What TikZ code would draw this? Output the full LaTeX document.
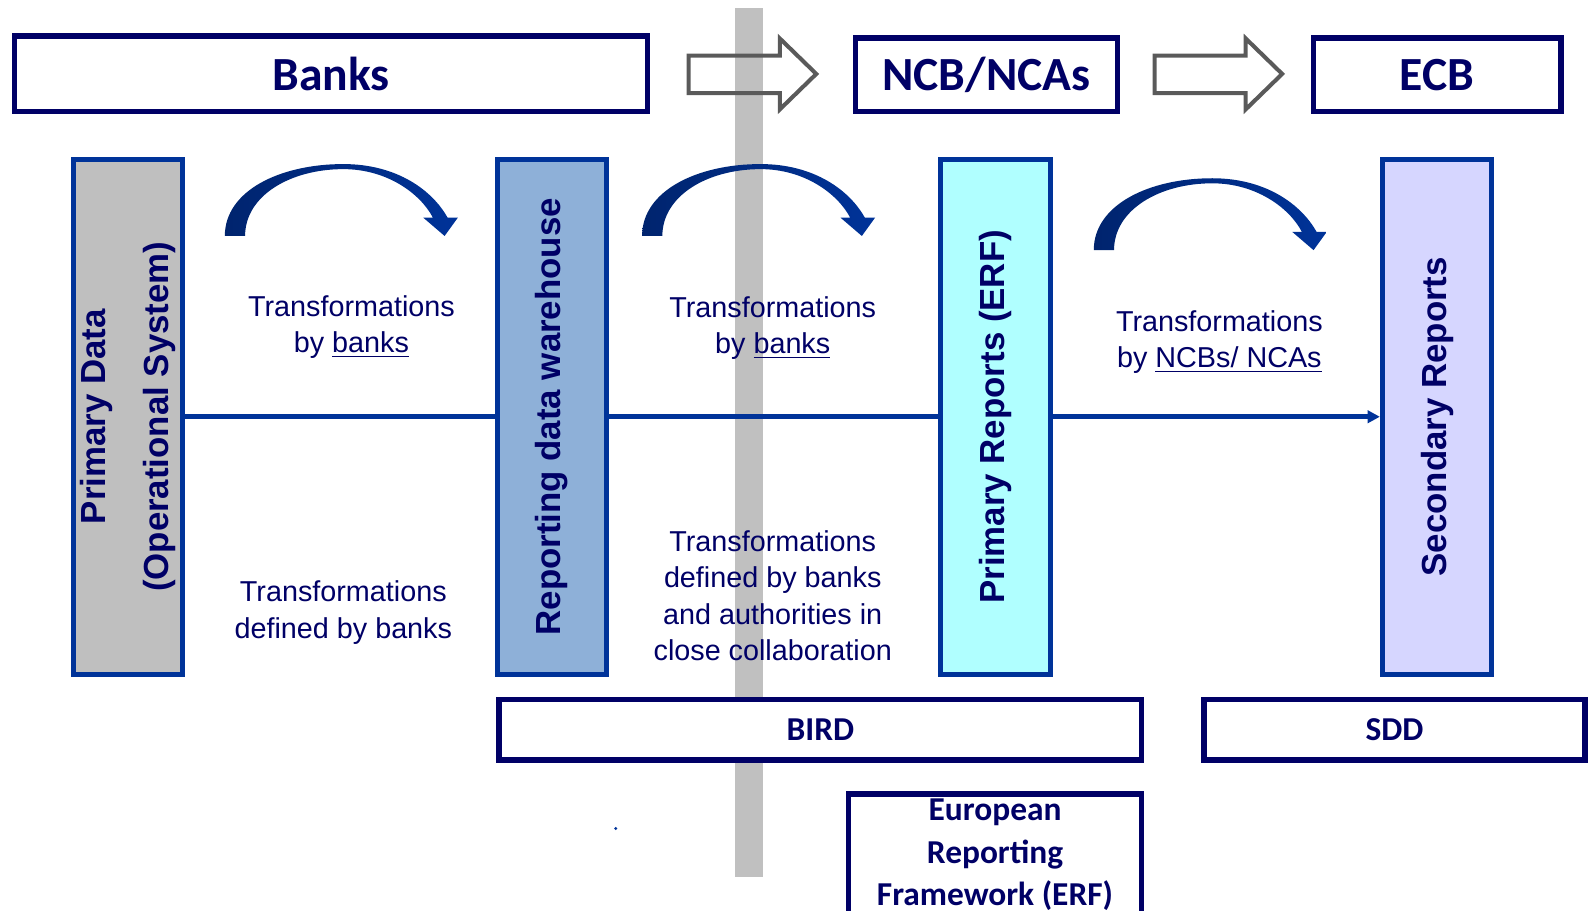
\documentclass[tikz,border=0pt]{standalone}
\usepackage{fontspec}
\setmainfont{Liberation Sans}
\newfontfamily\calibfont{Carlito}
\usetikzlibrary{arrows.meta}

\definecolor{navy}{HTML}{000066}
\definecolor{boxblue}{HTML}{003399}
\definecolor{arcdark}{HTML}{00246E}
\definecolor{arrowgray}{HTML}{5A5A5A}
\definecolor{bargray}{HTML}{C0C0C0}
\definecolor{opgray}{HTML}{BFBFBF}
\definecolor{dwblue}{HTML}{8EB0D8}
\definecolor{ercyan}{HTML}{B0FFFF}
\definecolor{seclilac}{HTML}{D6D6FF}

\tikzset{
  topbox/.style={draw=navy, line width=2.6pt, fill=white, inner sep=0pt, text=navy,
    font=\calibfont\bfseries\fontsize{23.5}{28}\selectfont},
  botbox/.style={draw=navy, line width=2.8pt, fill=white, inner sep=0pt, text=navy, align=center,
    font=\calibfont\bfseries\fontsize{16.5}{21}\selectfont},
  vbox/.style={draw=boxblue, line width=2.4pt, inner sep=0pt,
    minimum width=54.1pt, minimum height=254.1pt},
  vtext/.style={rotate=90, align=center, text=navy, inner sep=0pt,
    font=\bfseries\fontsize{17.2}{31}\selectfont},
  ttext/.style={align=center, text=navy, inner sep=0pt,
    font=\fontsize{14.2}{18}\selectfont},
  hline/.style={draw=boxblue, line width=2.5pt},
  hollow/.style={draw=arrowgray, line width=2pt, line join=miter},
}

\begin{document}
\begin{tikzpicture}[x=0.5pt, y=-0.5pt]
  \useasboundingbox (0,0) rectangle (1568,899);
  \def\bentarrow{(0,0) .. controls (0,-45) and (55,-71) .. (117,-71)
    .. controls (170,-71) and (205,-45) .. (220,-18) -- (230,-18) -- (217,0)
    -- (196,-18) -- (205.5,-18) .. controls (193,-42) and (160,-66) .. (117,-66)
    .. controls (65,-66) and (20,-40) .. (20,0) -- cycle}

  % grey divider behind everything
  \fill[bargray] (726,8) rectangle (753,866);

  % hollow block arrows between the institutions
  \foreach \x in {680,1140}
    \draw[hollow] (\x,55) -- ++(90,0) -- ++(0,-17) -- ++(36,35) -- ++(-36,35)
      -- ++(0,-16) -- ++(-90,0) -- cycle;

  \node[topbox, minimum width=312.4pt, minimum height=37.4pt] (banks) at (327,73) {Banks};
  \node[topbox, minimum width=129.4pt, minimum height=36.4pt] (ncb) at (974,74) {NCB/NCAs};
  \node[topbox, minimum width=122.4pt, minimum height=36.4pt] (ecb) at (1419,74) {ECB};

  % data layers
  \node[vbox, fill=opgray] (pd) at (126.5,411.5) {};
  \node[vbox, fill=dwblue] (rdw) at (545,411.5) {};
  \node[vbox, fill=ercyan] (pr) at (983,411.5) {};
  \node[vbox, fill=seclilac] (sr) at (1419,411.5) {};
  \node[vtext] (pdtext) at (pd) {Primary Data\\(Operational System)};
  \node[vtext] (rdwtext) at (rdw) {Reporting data warehouse};
  \node[vtext] (prtext) at (pr) {Primary Reports (ERF)};
  \node[vtext] (srtext) at (sr) {Secondary Reports};

  \draw[hline] (pd) -- (rdw);
  \draw[hline] (rdw) -- (pr);
  \draw[hline, -{Triangle[length=6pt, width=6pt]}] (pr) -- (sr);

  % bent arrows over each step
  \foreach \p in {(222,233),(634,233),(1080,247)}
    \shade[left color=arcdark, right color=boxblue, shift={\p}] \bentarrow;

  \node[ttext] (tbanks) at (347,323) {Transformations\\by \underline{banks}};
  \node[ttext] (tbird) at (763,324) {Transformations\\by \underline{banks}};
  \node[ttext] (tncb) at (1204,338) {Transformations\\by \underline{NCBs/ NCAs}};
  \node[ttext] (tdef) at (339,605) {Transformations\\defined by banks};
  \node[ttext] (tcollab) at (763,588) {Transformations\\defined by banks\\and authorities in\\close collaboration};

  \node[botbox, minimum width=317.2pt, minimum height=29.7pt] (bird) at (810,720.5) {BIRD};
  \node[botbox, minimum width=188.2pt, minimum height=29.7pt] (sdd) at (1377,720.5) {SDD};
  \node[botbox, minimum width=144.7pt, minimum height=60.2pt] (erf) at (982.5,844) {European\\Reporting\\Framework (ERF)};

  \fill[boxblue] (608,818) circle (0.8pt);
\end{tikzpicture}
\end{document}
